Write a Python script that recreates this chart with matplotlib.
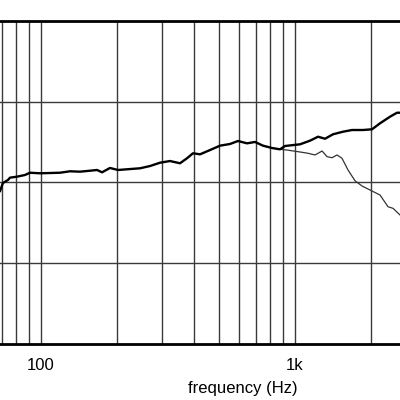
import matplotlib.pyplot as plt

plt.rcParams['font.family'] = ['Liberation Sans', 'DejaVu Sans']

# on-axis response (thick curve)
freq_on = [69, 70.8, 74.1, 75.5, 80.4, 86.5, 90.5, 99.1, 118.8, 130.1, 142.4, 156.0,
           166.2, 173.9, 186.9, 201.0, 245.4, 268.6, 294.1, 322.0, 352.5, 375.6,
           396.6, 422.7, 462.8, 506.6, 554.8, 596.4, 647.1, 695.8, 748.2, 811.9,
           872.9, 913.4, 1046, 1146, 1232, 1313, 1411, 1545, 1676, 1852, 2010,
           2161, 2366, 2521, 2590]
spl_on = [88.95, 89.94, 90.31, 90.6, 90.72, 90.93, 91.21, 91.14, 91.21, 91.39, 91.34,
          91.46, 91.55, 91.26, 91.8, 91.55, 91.76, 92.04, 92.45, 92.66, 92.38, 93.0,
          93.62, 93.49, 94.02, 94.56, 94.77, 95.14, 94.85, 95.02, 94.56, 94.27,
          94.11, 94.52, 94.73, 95.18, 95.67, 95.42, 95.97, 96.29, 96.5, 96.5,
          96.59, 97.33, 98.15, 98.64, 98.64]

# off-axis response (thin curve)
freq_off = [748.2, 811.9, 872.9, 930.1, 1046, 1125, 1199, 1278, 1337, 1399, 1464,
            1531, 1617, 1722, 1835, 1974, 2161, 2323, 2432, 2590]
spl_off = [94.56, 94.27, 94.11, 94.02, 93.78, 93.62, 93.41, 93.9, 93.2, 93.07, 93.41,
           93.0, 91.55, 90.22, 89.57, 89.07, 88.45, 87.0, 86.8, 85.98]

grid_freqs = [70, 80, 90, 100, 200, 300, 400, 500, 600, 700, 800, 900, 1000, 2000]
grid_db = [80, 90, 100]
label_freqs = [100, 1000]
label_text = ['100', '1k']

fig = plt.figure(figsize=(4, 4), dpi=100)
ax = fig.add_axes([0, 0.14, 1, 0.8075])

ax.plot(freq_off, spl_off, color='#333333', lw=0.9)
ax.plot(freq_on, spl_on, color='black', lw=1.7)

for f in grid_freqs:
    ax.axvline(f, color='#3a3a3a', lw=1.0, zorder=0)
for d in grid_db:
    ax.axhline(d, color='#3a3a3a', lw=1.0, zorder=0)

ax.set_xscale('log')
ax.set_xticks(label_freqs)
ax.set_xticklabels(label_text, fontsize=12)
ax.set_xticks(grid_freqs, minor=True)
ax.set_xticklabels([], minor=True)
ax.set_yticks(grid_db)
ax.set_yticklabels([])
ax.tick_params(which='both', length=0, pad=10)
ax.set_xlim(68.96, 2590)
ax.set_ylim(70, 110)

ax.spines['left'].set_visible(False)
ax.spines['right'].set_visible(False)
ax.spines['top'].set_linewidth(2)
ax.spines['bottom'].set_linewidth(2)

fig.text(0.6075, 1 - 388 / 400, 'frequency (Hz)', ha='center', va='center', fontsize=12)

fig.savefig('out.png', dpi=100)
